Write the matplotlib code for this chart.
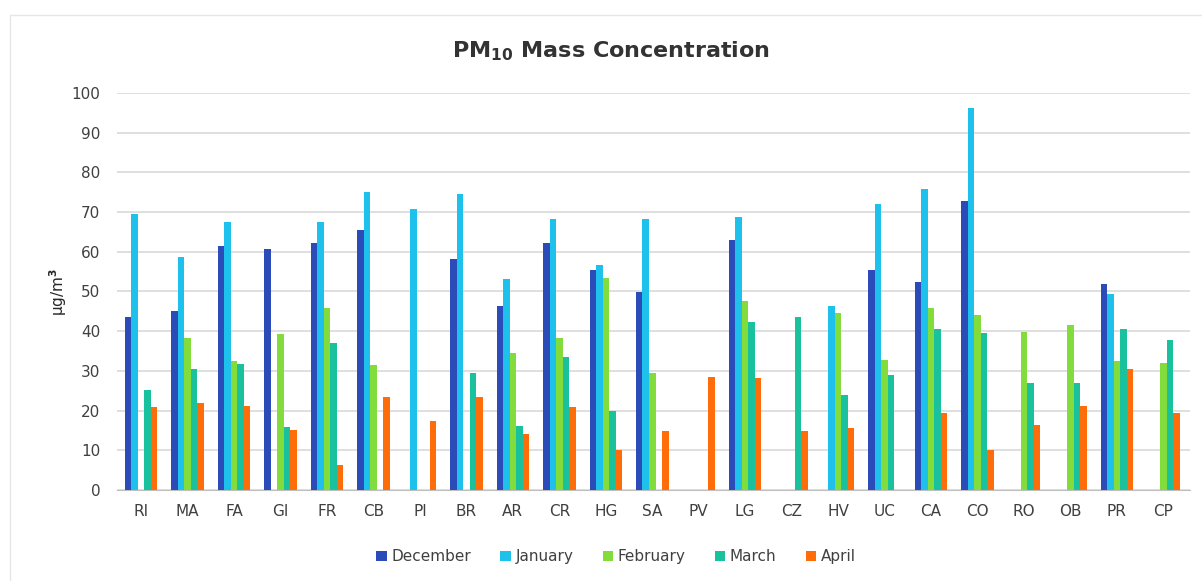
import numpy as np
import matplotlib; matplotlib.use("Agg")
import matplotlib.pyplot as plt
from matplotlib.patches import Rectangle

sites = ["RI", "MA", "FA", "GI", "FR", "CB", "PI", "BR", "AR", "CR", "HG", "SA",
         "PV", "LG", "CZ", "HV", "UC", "CA", "CO", "RO", "OB", "PR", "CP"]
months = ["December", "January", "February", "March", "April"]
december = [43.5, 45.0, 61.5, 60.7, 62.2, 65.5, 0, 58.3, 46.3, 62.2, 55.5, 49.8,
            0, 63.0, 0, 0, 55.5, 52.3, 72.8, 0, 0, 51.9, 0]
january = [69.5, 58.7, 67.5, 0, 67.5, 75.0, 70.8, 74.5, 53.2, 68.3, 56.7, 68.3,
           0, 68.8, 0, 46.3, 72.0, 75.7, 96.2, 0, 0, 49.4, 0]
february = [0, 38.3, 32.5, 39.3, 45.8, 31.5, 0, 0, 34.5, 38.3, 53.5, 29.5,
            0, 47.5, 0, 44.7, 32.7, 45.8, 44.2, 39.8, 41.5, 32.4, 31.9]
march = [25.3, 30.5, 31.8, 15.9, 37.0, 0, 0, 29.5, 16.0, 33.5, 20.0, 0,
         0, 42.3, 43.5, 24.0, 29.0, 40.6, 39.5, 27.0, 27.0, 40.6, 37.8]
april = [21.0, 22.0, 21.2, 15.2, 6.2, 23.5, 17.5, 23.5, 14.0, 20.8, 10.2, 14.8,
         28.5, 28.2, 14.8, 15.5, 0, 19.5, 10.0, 16.3, 21.2, 30.5, 19.5]
colors = ["#2b4bb8", "#1ec0ec", "#82dc3c", "#19c29c", "#ff6d0a"]

fig = plt.figure(figsize=(12.02, 5.81), dpi=100)
ax = fig.add_axes([0.0973, 0.1566, 0.893, 0.6834])

x = np.arange(len(sites))
w = 0.14
for i, (vals, c, lab) in enumerate(zip([december, january, february, march, april], colors, months)):
    ax.bar(x + (i - 2) * w, vals, width=w, color=c, label=lab, zorder=3)

ax.set_xlim(-0.52, len(sites) - 0.42)
ax.set_ylim(0, 100)
ax.set_yticks(range(0, 101, 10))
ax.set_xticks(x)
ax.set_xticklabels(sites)
ax.yaxis.grid(True, color="#d9d9d9", lw=1.2, zorder=0)
for s in ["top", "right", "left"]:
    ax.spines[s].set_visible(False)
ax.spines["bottom"].set_color("#bfbfbf")
ax.tick_params(length=0, labelsize=11, colors="#404040")
ax.tick_params(axis="x", pad=10)
ax.tick_params(axis="y", pad=12)
ax.set_ylabel("μg/m$^3$", fontsize=11, color="#262626", labelpad=2)

plt.rcParams["mathtext.default"] = "bf"
fig.text(0.508, 0.912, "PM$_{10}$ Mass Concentration", ha="center", va="center",
         fontsize=16, fontweight="bold", color="#333333")

ax.legend(loc="upper center", bbox_to_anchor=(0.465, -0.115), ncol=5, frameon=False,
          fontsize=11, handlelength=0.7, handleheight=0.7, handletextpad=0.3,
          columnspacing=1.9, labelcolor="#404040")

fig.patches.append(Rectangle((10 / 1202, -0.01), 1.0, 1 - 15 / 581 + 0.01,
                             transform=fig.transFigure, fill=False,
                             edgecolor="#e6e6e6", lw=1))

fig.savefig("out.png", dpi=100)
